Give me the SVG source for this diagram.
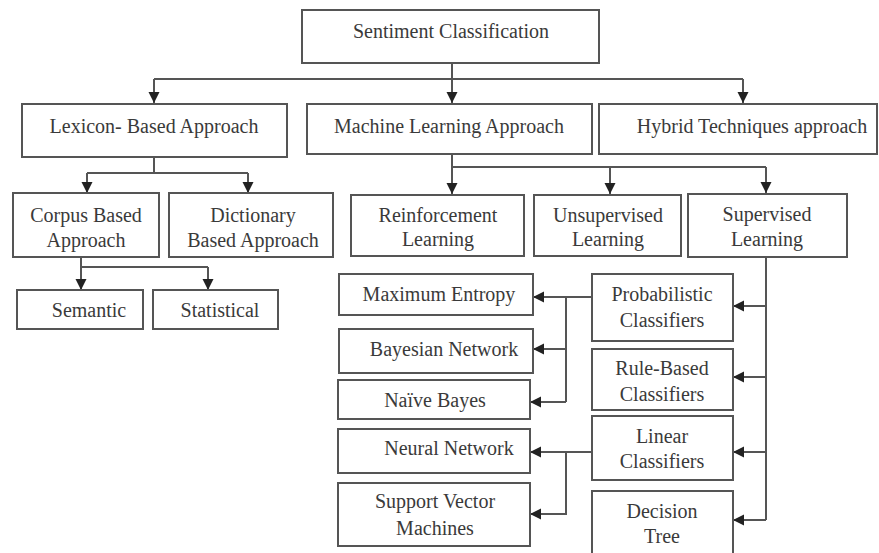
<svg xmlns="http://www.w3.org/2000/svg" width="879" height="553" viewBox="0 0 879 553">
<style>
.box{fill:#fff;stroke:#555;stroke-width:2}
.t{font-family:"Liberation Serif","Times New Roman",serif;font-size:20px;fill:#3a3a3a;text-anchor:middle}
.c{fill:none;stroke:#555;stroke-width:2}
</style>
<defs>
<marker id="ah" markerUnits="userSpaceOnUse" markerWidth="12" markerHeight="12" refX="11" refY="5.5" orient="auto">
<path d="M0,0 L11,5.5 L0,11 z" fill="#222"/>
</marker>
</defs>
<rect width="879" height="553" fill="#fff"/>
<g id="connectors">
<path class="c" d="M452,63 V79 M154,79 H743"/>
<path class="c" d="M154,79 V103" marker-end="url(#ah)"/>
<path class="c" d="M452,79 V103" marker-end="url(#ah)"/>
<path class="c" d="M743,79 V103" marker-end="url(#ah)"/>
<path class="c" d="M452,154 V167 M452,167 H766"/>
<path class="c" d="M452,167 V194" marker-end="url(#ah)"/>
<path class="c" d="M610,167 V194" marker-end="url(#ah)"/>
<path class="c" d="M766,167 V193" marker-end="url(#ah)"/>
<path class="c" d="M154,157 V173 M87,173 H248"/>
<path class="c" d="M87,173 V193" marker-end="url(#ah)"/>
<path class="c" d="M248,173 V193" marker-end="url(#ah)"/>
<path class="c" d="M81,257 V267 H208"/>
<path class="c" d="M81,267 V290" marker-end="url(#ah)"/>
<path class="c" d="M208,267 V290" marker-end="url(#ah)"/>
<path class="c" d="M766,257 V520"/>
<path class="c" d="M766,306 H733" marker-end="url(#ah)"/>
<path class="c" d="M766,377 H733" marker-end="url(#ah)"/>
<path class="c" d="M766,452 H733" marker-end="url(#ah)"/>
<path class="c" d="M766,520 H733" marker-end="url(#ah)"/>
<path class="c" d="M592,297 H533" marker-end="url(#ah)"/>
<path class="c" d="M566,297 V402"/>
<path class="c" d="M566,349 H533" marker-end="url(#ah)"/>
<path class="c" d="M566,402 H530" marker-end="url(#ah)"/>
<path class="c" d="M592,452 H530" marker-end="url(#ah)"/>
<path class="c" d="M566,452 V514 H530" marker-end="url(#ah)"/>
</g>
<g id="sentiment"><rect class="box" x="302" y="10" width="297" height="53"/><text class="t" x="451" y="38">Sentiment Classification</text></g>
<g id="lexicon"><rect class="box" x="22" y="104" width="265" height="53"/><text class="t" x="154" y="133">Lexicon- Based Approach</text></g>
<g id="ml"><rect class="box" x="307" y="104" width="285" height="50"/><text class="t" x="449" y="133">Machine Learning Approach</text></g>
<g id="hybrid"><rect class="box" x="599" y="104" width="278" height="50"/><text class="t" x="752" y="133">Hybrid Techniques approach</text></g>
<g id="corpus"><rect class="box" x="13" y="193" width="146" height="64"/><text class="t" x="86" y="222">Corpus Based</text><text class="t" x="86" y="247">Approach</text></g>
<g id="dictionary"><rect class="box" x="169" y="193" width="164" height="64"/><text class="t" x="253" y="222">Dictionary</text><text class="t" x="253" y="247">Based Approach</text></g>
<g id="semantic"><rect class="box" x="17" y="290" width="126" height="39"/><text class="t" x="89" y="317">Semantic</text></g>
<g id="statistical"><rect class="box" x="153" y="290" width="125" height="39"/><text class="t" x="220" y="317">Statistical</text></g>
<g id="reinforcement"><rect class="box" x="351" y="195" width="173" height="61"/><text class="t" x="438" y="222">Reinforcement</text><text class="t" x="438" y="246">Learning</text></g>
<g id="unsupervised"><rect class="box" x="534" y="195" width="147" height="61"/><text class="t" x="608" y="222">Unsupervised</text><text class="t" x="608" y="246">Learning</text></g>
<g id="supervised"><rect class="box" x="688" y="194" width="159" height="63"/><text class="t" x="767" y="221">Supervised</text><text class="t" x="767" y="246">Learning</text></g>
<g id="maxent"><rect class="box" x="339" y="274" width="194" height="41"/><text class="t" x="439" y="301">Maximum Entropy</text></g>
<g id="bayesnet"><rect class="box" x="339" y="329" width="194" height="44"/><text class="t" x="444" y="356">Bayesian Network</text></g>
<g id="naivebayes"><rect class="box" x="338" y="380" width="192" height="39"/><text class="t" x="435" y="407">Naïve Bayes</text></g>
<g id="neural"><rect class="box" x="338" y="429" width="192" height="44"/><text class="t" x="449" y="455">Neural Network</text></g>
<g id="svm"><rect class="box" x="338" y="483" width="192" height="63"/><text class="t" x="435" y="508">Support Vector</text><text class="t" x="435" y="535">Machines</text></g>
<g id="probabilistic"><rect class="box" x="592" y="274" width="141" height="67"/><text class="t" x="662" y="301">Probabilistic</text><text class="t" x="662" y="327">Classifiers</text></g>
<g id="rulebased"><rect class="box" x="592" y="349" width="141" height="61"/><text class="t" x="662" y="375">Rule-Based</text><text class="t" x="662" y="401">Classifiers</text></g>
<g id="linear"><rect class="box" x="592" y="416" width="141" height="64"/><text class="t" x="662" y="443">Linear</text><text class="t" x="662" y="468">Classifiers</text></g>
<g id="decision"><rect class="box" x="592" y="491" width="141" height="70"/><text class="t" x="662" y="518">Decision</text><text class="t" x="662" y="543">Tree</text></g>
</svg>
